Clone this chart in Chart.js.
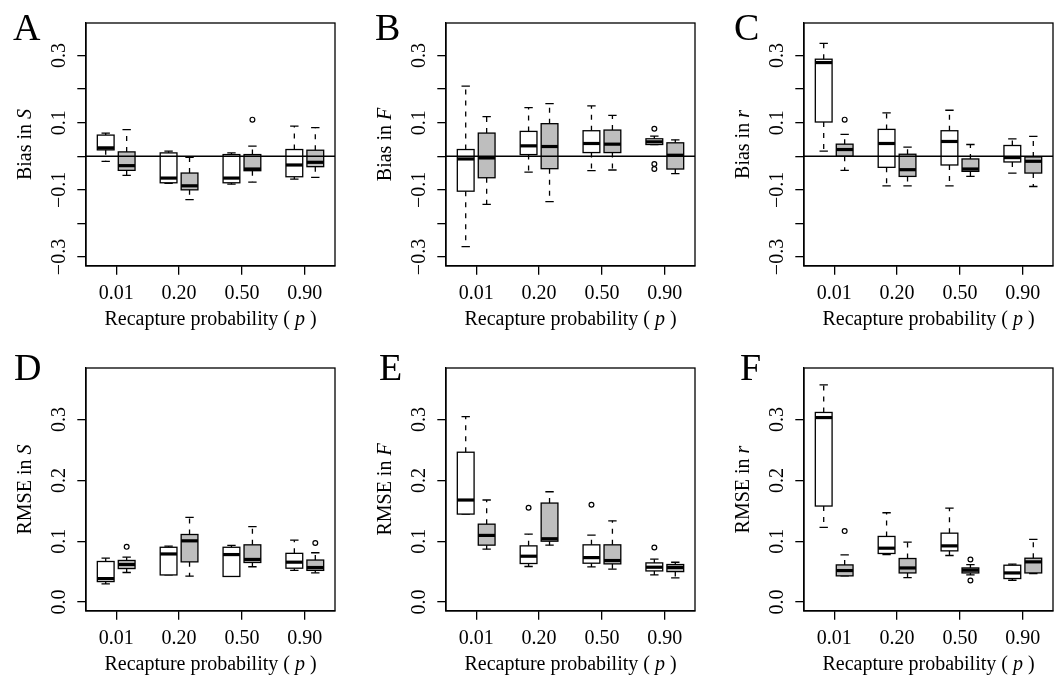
<!DOCTYPE html>
<html><head><meta charset="utf-8">
<script src="https://cdn.jsdelivr.net/npm/chart.js@4/dist/chart.umd.min.js"></script>
<style>
html,body{margin:0;padding:0;background:#fff;overflow:hidden;width:1059px;height:677px;}
#wrap{position:relative;width:1059px;height:677px;overflow:hidden;background:#fff;}
canvas{position:absolute;}
</style></head><body><div id="wrap"></div>
<script>
// ---------- data ----------
const pLabels = ['0.01', '0.20', '0.50', '0.90'];
// each box: [min, q1, median, q3, max]
const biasS_white = [[-0.015, 0.019, 0.025, 0.063, 0.069], [-0.081, -0.079, -0.065, 0.010, 0.015], [-0.083, -0.079, -0.065, 0.005, 0.010], [-0.068, -0.061, -0.026, 0.020, 0.090]];
const biasS_gray  = [[-0.057, -0.042, -0.028, 0.013, 0.079], [-0.129, -0.100, -0.088, -0.050, -0.003], [-0.077, -0.043, -0.038, 0.005, 0.030], [-0.063, -0.031, -0.018, 0.018, 0.085]];
const biasS_whiteOut = [[], [], [], []];
const biasS_grayOut  = [[], [], [0.109], []];

const biasF_white = [[-0.269, -0.104, -0.008, 0.020, 0.209], [-0.047, 0.005, 0.031, 0.074, 0.145], [-0.043, 0.011, 0.038, 0.076, 0.150], [0.035, 0.035, 0.043, 0.052, 0.060]];
const biasF_gray  = [[-0.143, -0.064, -0.005, 0.069, 0.118], [-0.135, -0.037, 0.029, 0.097, 0.157], [-0.041, 0.011, 0.036, 0.078, 0.122], [-0.052, -0.038, 0.003, 0.040, 0.049]];
const biasF_whiteOut = [[], [], [], [0.082, -0.023, -0.038]];
const biasF_grayOut  = [[], [], [], []];

const biasR_white = [[0.015, 0.102, 0.279, 0.289, 0.336], [-0.088, -0.033, 0.038, 0.080, 0.129], [-0.088, -0.026, 0.044, 0.076, 0.137], [-0.050, -0.017, -0.004, 0.032, 0.052]];
const biasR_gray  = [[-0.042, 0.000, 0.020, 0.036, 0.065], [-0.088, -0.060, -0.040, 0.006, 0.027], [-0.060, -0.045, -0.038, -0.008, 0.035], [-0.090, -0.050, -0.015, -0.002, 0.059]];
const biasR_whiteOut = [[], [], [], []];
const biasR_grayOut  = [[0.109], [], [], []];

const rmseS_white = [[0.0297, 0.0336, 0.0385, 0.0666, 0.072], [0.0445, 0.0445, 0.079, 0.090, 0.0918], [0.042, 0.042, 0.078, 0.090, 0.093], [0.052, 0.0556, 0.0655, 0.080, 0.1017]];
const rmseS_gray  = [[0.0485, 0.055, 0.0617, 0.0683, 0.0737], [0.0424, 0.066, 0.1006, 0.111, 0.139], [0.058, 0.065, 0.070, 0.094, 0.124], [0.048, 0.052, 0.0567, 0.069, 0.081]];
const rmseS_whiteOut = [[], [], [], []];
const rmseS_grayOut  = [[0.0907], [], [], [0.097]];

const rmseF_white = [[0.1446, 0.1446, 0.1677, 0.2463, 0.305], [0.0584, 0.0633, 0.0753, 0.0923, 0.1116], [0.0577, 0.0638, 0.073, 0.094, 0.110], [0.0445, 0.0511, 0.0572, 0.0643, 0.0704]];
const rmseF_gray  = [[0.0869, 0.0935, 0.1095, 0.128, 0.1677], [0.0935, 0.100, 0.104, 0.1627, 0.1813], [0.0539, 0.0627, 0.0682, 0.094, 0.1335], [0.0396, 0.050, 0.0567, 0.0616, 0.0654]];
const rmseF_whiteOut = [[], [0.155], [0.160], [0.0897]];
const rmseF_grayOut  = [[], [], [], []];

const rmseR_white = [[0.1227, 0.1578, 0.3033, 0.3117, 0.357], [0.0781, 0.0798, 0.0885, 0.1078, 0.1468], [0.0765, 0.0841, 0.0923, 0.1132, 0.1545], [0.0358, 0.0386, 0.0478, 0.0605, 0.0622]];
const rmseR_gray  = [[0.043, 0.043, 0.0517, 0.061, 0.0775], [0.0402, 0.0478, 0.056, 0.0715, 0.0984], [0.0445, 0.0478, 0.0523, 0.056, 0.0616], [0.0468, 0.0478, 0.066, 0.072, 0.1029]];
const rmseR_whiteOut = [[], [], [], []];
const rmseR_grayOut  = [[0.1166], [], [0.0699, 0.0353], []];

const biasTicks = [-0.3, -0.2, -0.1, 0, 0.1, 0.2, 0.3];
const rmseTicks = [0, 0.1, 0.2, 0.3];

const panels = [
  {letter: 'A', yName: 'Bias in ', yVar: 'S', white: biasS_white, gray: biasS_gray, whiteOut: biasS_whiteOut, grayOut: biasS_grayOut, kind: 'bias'},
  {letter: 'B', yName: 'Bias in ', yVar: 'F', white: biasF_white, gray: biasF_gray, whiteOut: biasF_whiteOut, grayOut: biasF_grayOut, kind: 'bias'},
  {letter: 'C', yName: 'Bias in ', yVar: 'r', white: biasR_white, gray: biasR_gray, whiteOut: biasR_whiteOut, grayOut: biasR_grayOut, kind: 'bias'},
  {letter: 'D', yName: 'RMSE in ', yVar: 'S', white: rmseS_white, gray: rmseS_gray, whiteOut: rmseS_whiteOut, grayOut: rmseS_grayOut, kind: 'rmse'},
  {letter: 'E', yName: 'RMSE in ', yVar: 'F', white: rmseF_white, gray: rmseF_gray, whiteOut: rmseF_whiteOut, grayOut: rmseF_grayOut, kind: 'rmse'},
  {letter: 'F', yName: 'RMSE in ', yVar: 'r', white: rmseR_white, gray: rmseR_gray, whiteOut: rmseR_whiteOut, grayOut: rmseR_grayOut, kind: 'rmse'}
];

// ---------- layout / style ----------
const FAMILY = '"Liberation Serif", "Times New Roman", Times, serif';
const canvasPos = [[0, 0], [360, 0], [718, 0], [0, 345], [360, 345], [718, 345]];
const letterX = [13, 15, 16, 14, 19, 22];
const letterBase = [40, 40, 40, 35, 35, 35];
const CW = 352, CH = 338, YW = 86, XH = 72, PT = 23, PR = 17, TICKLEN = 8.7;
const LW = 1.3;

Chart.defaults.font.family = FAMILY;
Chart.defaults.color = '#000';

const mctx = document.createElement('canvas').getContext('2d');
mctx.font = '20px ' + FAMILY;

function tickLabel(kind, v) {
  const k = Math.round(v * 10);
  if (kind === 'bias') {
    if (k % 2 === 0) return '';
    return (k < 0 ? '\u2212' : '') + '0.' + Math.abs(k);
  }
  return '0.' + k;
}

const boxPlugin = {
  id: 'rbox',
  beforeDatasetsDraw(chart) {
    const p = chart.config.options.plugins.rbox.panel;
    const xs = chart.scales.x, ys = chart.scales.y, ctx = chart.ctx;
    const drawBox = (pos, s, fill) => {
      const xc = xs.getPixelForValue(pos);
      const xl = xs.getPixelForValue(pos - 0.4), xr = xs.getPixelForValue(pos + 0.4);
      const sl = xs.getPixelForValue(pos - 0.2), sr = xs.getPixelForValue(pos + 0.2);
      const [mn, q1, md, q3, mx] = s.map(v => ys.getPixelForValue(v));
      ctx.save();
      ctx.strokeStyle = '#000';
      ctx.lineWidth = LW;
      ctx.setLineDash([5, 6]);
      ctx.beginPath();
      ctx.moveTo(xc, q3); ctx.lineTo(xc, mx);
      ctx.moveTo(xc, q1); ctx.lineTo(xc, mn);
      ctx.stroke();
      ctx.setLineDash([]);
      ctx.beginPath();
      ctx.moveTo(sl, mx); ctx.lineTo(sr, mx);
      ctx.moveTo(sl, mn); ctx.lineTo(sr, mn);
      ctx.stroke();
      ctx.fillStyle = fill;
      ctx.fillRect(xl, q3, xr - xl, q1 - q3);
      ctx.strokeRect(xl, q3, xr - xl, q1 - q3);
      ctx.lineWidth = 3.2;
      ctx.lineCap = 'butt';
      ctx.beginPath();
      ctx.moveTo(xl, md); ctx.lineTo(xr, md);
      ctx.stroke();
      ctx.restore();
    };
    for (let g = 0; g < pLabels.length; g++) {
      drawBox(3 * g + 1, p.white[g], '#ffffff');
      drawBox(3 * g + 2, p.gray[g], '#bebebe');
    }
  },
  afterDatasetsDraw(chart) {
    const p = chart.config.options.plugins.rbox.panel;
    const ctx = chart.ctx, a = chart.chartArea, ys = chart.scales.y;
    ctx.save();
    ctx.strokeStyle = '#000';
    ctx.lineWidth = LW;
    if (p.kind === 'bias') {
      const y0 = ys.getPixelForValue(0);
      ctx.beginPath(); ctx.moveTo(a.left, y0); ctx.lineTo(a.right, y0); ctx.stroke();
    }
    ctx.strokeRect(a.left, a.top, a.right - a.left, a.bottom - a.top);
    ctx.restore();
  },
  afterDraw(chart) {
    const o = chart.config.options.plugins.rbox;
    const p = o.panel, ctx = chart.ctx, a = chart.chartArea;
    const normal = '20px ' + FAMILY, ital = 'italic 20px ' + FAMILY;
    ctx.save();
    ctx.fillStyle = '#000';
    // panel letter
    ctx.font = '38px ' + FAMILY;
    ctx.textAlign = 'left';
    ctx.textBaseline = 'alphabetic';
    ctx.fillText(p.letter, o.lx, o.lb);
    // x title
    const parts = [['Recapture probability ( ', normal], ['p', ital], [' )', normal]];
    let w = 0;
    parts.forEach(pt => { ctx.font = pt[1]; w += ctx.measureText(pt[0]).width; });
    let x = (a.left + a.right) / 2 - w / 2;
    const yb = a.bottom + 59;
    parts.forEach(pt => { ctx.font = pt[1]; ctx.fillText(pt[0], x, yb); x += ctx.measureText(pt[0]).width; });
    // y title (rotated)
    const yparts = [[p.yName, normal], [p.yVar, ital]];
    let wy = 0;
    yparts.forEach(pt => { ctx.font = pt[1]; wy += ctx.measureText(pt[0]).width; });
    ctx.translate(a.left - 60.2, (a.top + a.bottom) / 2);
    ctx.rotate(-Math.PI / 2);
    ctx.textBaseline = 'middle';
    let xx = -wy / 2;
    yparts.forEach(pt => { ctx.font = pt[1]; ctx.fillText(pt[0], xx, 0); xx += ctx.measureText(pt[0]).width; });
    ctx.restore();
  }
};

const wrap = document.getElementById('wrap');
panels.forEach((p, i) => {
  const cv = document.createElement('canvas');
  cv.width = CW; cv.height = CH;
  cv.style.left = canvasPos[i][0] + 'px';
  cv.style.top = canvasPos[i][1] + 'px';
  cv.style.width = CW + 'px'; cv.style.height = CH + 'px';
  wrap.appendChild(cv);

  const isBias = p.kind === 'bias';
  const yTicks = isBias ? biasTicks : rmseTicks;
  const yMin = isBias ? -0.3268 : -0.0148;
  const yMax = isBias ? 0.3968 : 0.3848;
  const labels = yTicks.map(v => tickLabel(p.kind, v));
  const widest = Math.max(...labels.map(l => mctx.measureText(l).width));
  const yPad = 26.5 - TICKLEN - widest / 2;

  const outliers = [];
  for (let g = 0; g < pLabels.length; g++) {
    p.whiteOut[g].forEach(v => outliers.push({x: 3 * g + 1, y: v}));
    p.grayOut[g].forEach(v => outliers.push({x: 3 * g + 2, y: v}));
  }

  new Chart(cv, {
    type: 'scatter',
    data: {
      datasets: [{
        label: 'outliers',
        data: outliers,
        pointStyle: 'circle',
        pointRadius: 2.4,
        pointHoverRadius: 2.4,
        borderColor: '#000',
        backgroundColor: 'rgba(0,0,0,0)',
        borderWidth: 1.2
      }]
    },
    options: {
      responsive: false,
      animation: false,
      devicePixelRatio: 1,
      layout: {padding: {left: 0, top: PT, right: PR, bottom: 0}},
      plugins: {
        legend: {display: false},
        tooltip: {enabled: false},
        rbox: {panel: p, lx: letterX[i], lb: letterBase[i]}
      },
      scales: {
        x: {
          type: 'linear',
          min: 0.06, max: 11.94,
          afterBuildTicks: s => { s.ticks = pLabels.map((l, g) => ({value: 3 * g + 1.5})); },
          afterFit: s => { s.height = XH; },
          ticks: {
            autoSkip: false, maxRotation: 0, minRotation: 0,
            font: {size: 20, family: FAMILY}, color: '#000', padding: 7,
            callback: (v) => { const g = Math.round((v - 1.5) / 3); return pLabels[g]; }
          },
          grid: {display: true, drawOnChartArea: false, drawTicks: true, tickLength: TICKLEN, color: '#000', lineWidth: LW},
          border: {display: true, color: '#000', width: LW}
        },
        y: {
          type: 'linear',
          min: yMin, max: yMax,
          afterBuildTicks: s => { s.ticks = yTicks.map(v => ({value: v})); },
          afterFit: s => { s.width = YW; },
          ticks: {
            autoSkip: false, minRotation: 90, maxRotation: 90, crossAlign: 'center',
            font: {size: 20, family: FAMILY}, color: '#000', padding: yPad,
            callback: (v) => tickLabel(p.kind, v)
          },
          grid: {display: true, drawOnChartArea: false, drawTicks: true, tickLength: TICKLEN, color: '#000', lineWidth: LW},
          border: {display: true, color: '#000', width: LW}
        }
      }
    },
    plugins: [boxPlugin]
  });
});
</script>
</body></html>
